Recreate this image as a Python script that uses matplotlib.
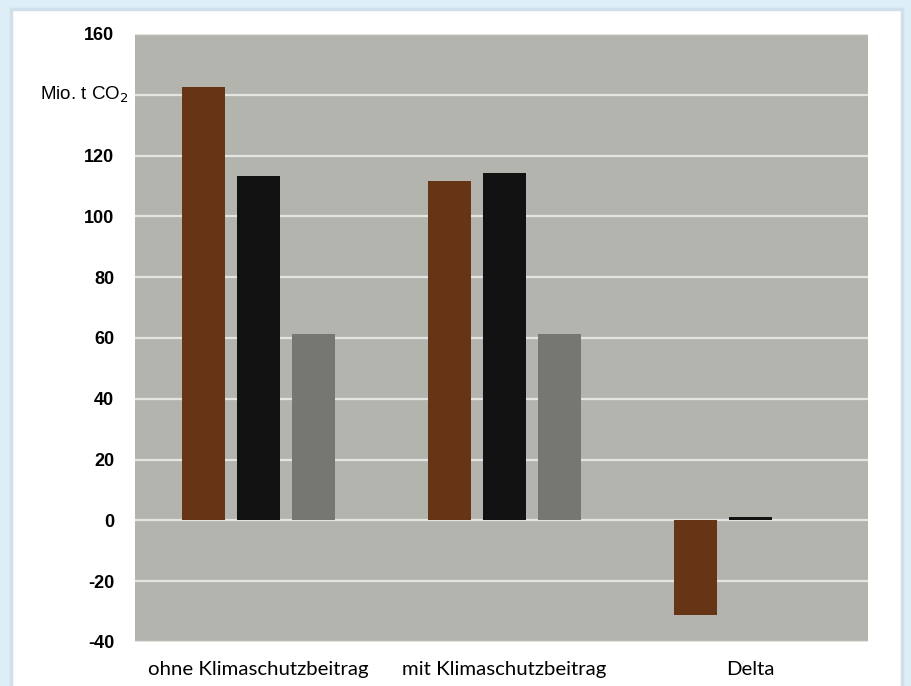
import matplotlib
matplotlib.use("Agg")
import matplotlib.pyplot as plt
from matplotlib.patches import Rectangle
import matplotlib.transforms as mtransforms
import numpy as np

# Emissions in Mio. t CO2
categories = ["ohne Klimaschutzbeitrag", "mit Klimaschutzbeitrag", "Delta"]
series_brown = [142.7, 111.5, -31.2]
series_black = [113.3, 114.3, 1.0]
series_grey = [61.2, 61.2, 0.0]
y_ticks = [-40, -20, 0, 20, 40, 60, 80, 100, 120, 140, 160]
y_tick_labels = ["-40", "-20", "0", "20", "40", "60", "80", "100", "120", "", "160"]
unit_label = "Mio. t CO$_2$"

W, H = 911, 686
fig = plt.figure(figsize=(W / 100, H / 100), dpi=100)
fig.patch.set_facecolor("#ddeef6")

# white card behind the chart (runs off the bottom edge)
card = Rectangle((11 / W, -0.05), (902 - 11) / W, (H - 9) / H + 0.05,
                 transform=fig.transFigure, facecolor="white",
                 edgecolor="#cfe0ea", linewidth=2.5, zorder=-10)
fig.patches.append(card)

left, right, top, bottom = 135, 868, 34, 642
ax = fig.add_axes([left / W, 1 - bottom / H, (right - left) / W, (bottom - top) / H])
ax.set_facecolor("#b4b4ae")

x = np.arange(len(categories))
offset = 0.2236
width = 0.175
ax.bar(x - offset, series_brown, width, color="#663516", zorder=3)
ax.bar(x, series_black, width, color="#121212", zorder=3)
ax.bar(x + offset, series_grey, width, color="#777771", zorder=3)

ax.set_xlim(-0.502, 2.478)
ax.set_ylim(-40, 160)
ax.set_yticks(y_ticks)
ax.set_yticklabels(y_tick_labels, fontfamily="Liberation Sans",
                   fontweight="bold", fontsize=13)
ax.set_xticks(x)
ax.set_xticklabels(categories, fontfamily="Lato", fontsize=14.7)
ax.tick_params(axis="y", length=0, pad=15)
ax.tick_params(axis="x", length=0, pad=14)
ax.yaxis.grid(True, color="#e4e4e0", linewidth=1.6, zorder=1)
ax.set_axisbelow(True)
for s in ax.spines.values():
    s.set_visible(False)

# unit label in place of the 140 tick
trans = mtransforms.blended_transform_factory(fig.transFigure, ax.transData)
ax.text(128 / W, 140, unit_label, transform=trans, ha="right", va="center",
        fontfamily="Liberation Sans", fontsize=13.5)

fig.savefig("out.png", dpi=100, facecolor=fig.get_facecolor())
